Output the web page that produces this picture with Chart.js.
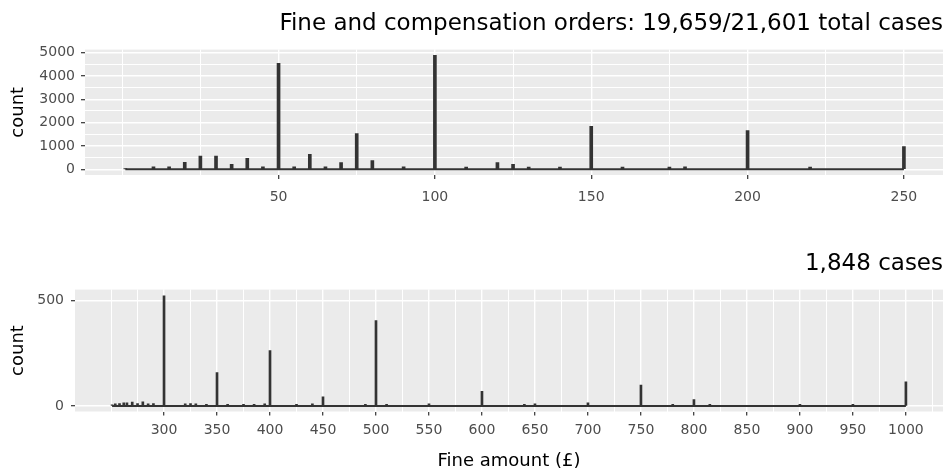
<!DOCTYPE html>
<html>
<head>
<meta charset="utf-8">
<script src="https://cdn.jsdelivr.net/npm/chart.js@4.4.1/dist/chart.umd.min.js"></script>
<style>
  body { margin: 0; background: #fff; }
  canvas { display: block; }
</style>
</head>
<body>
<canvas id="topChart" width="951" height="235"></canvas>
<canvas id="bottomChart" width="951" height="241"></canvas>
<script>
// fine amounts (GBP) and number of cases
const topAmounts = [1, 10, 15, 20, 25, 30, 35, 40, 45, 50, 55, 60, 65, 70, 75, 80, 90, 100, 110, 120,
  125, 130, 140, 150, 160, 175, 180, 200, 220, 250];
const topCounts = [20, 110, 110, 300, 570, 570, 210, 470, 110, 4540, 110, 640, 110, 290, 1530, 370, 110, 4880, 100, 290,
  210, 100, 100, 1840, 100, 100, 110, 1660, 100, 975];

const bottomAmounts = [251, 254, 258, 262, 265, 270, 275, 280, 285, 290, 300, 320, 325, 330, 340, 350, 360, 375, 385, 395,
  400, 425, 440, 450, 490, 500, 510, 550, 600, 640, 650, 700, 750, 780, 800, 815, 900, 950, 1000];
const bottomCounts = [6, 10, 12, 15, 15, 18, 12, 20, 10, 12, 522, 10, 12, 10, 8, 158, 8, 8, 8, 10,
  262, 8, 10, 43, 8, 404, 8, 10, 70, 8, 10, 15, 99, 8, 31, 8, 8, 8, 115];

// axis breaks (labelled) and grid lines
const topBreaksX = [50, 100, 150, 200, 250];
const topGridX = [0, 25, 50, 75, 100, 125, 150, 175, 200, 225, 250];
const topBreaksY = [0, 1000, 2000, 3000, 4000, 5000];
const topGridY = [0, 500, 1000, 1500, 2000, 2500, 3000, 3500, 4000, 4500, 5000];

const bottomBreaksX = [300, 350, 400, 450, 500, 550, 600, 650, 700, 750, 800, 850, 900, 950, 1000];
const bottomGridX = [250, 275, 300, 325, 350, 375, 400, 425, 450, 475, 500, 525, 550, 575, 600, 625, 650, 675,
  700, 725, 750, 775, 800, 825, 850, 875, 900, 925, 950, 975, 1000, 1025];
const bottomBreaksY = [0, 500];
const bottomGridY = [0, 500];

const topTitle = 'Fine and compensation orders: 19,659/21,601 total cases';
const bottomTitle = '1,848 cases';
const xTitle = 'Fine amount (£)';
const yTitle = 'count';

const FONT = "'DejaVu Sans', sans-serif";
const BAR = '#333333';

const panelBg = {
  id: 'panelBg',
  beforeDraw(chart) {
    const { ctx, chartArea: a } = chart;
    ctx.save();
    ctx.fillStyle = '#ebebeb';
    ctx.fillRect(a.left, a.top, a.right - a.left, a.bottom - a.top);
    ctx.restore();
  }
};

function axis(o) {
  const isMajor = c => c.tick && o.breaks.includes(c.tick.value);
  return {
    type: 'linear',
    min: o.min,
    max: o.max,
    offset: false,
    afterBuildTicks: s => { s.ticks = o.grid.map(v => ({ value: v })); },
    afterFit: s => { if (o.width) s.width = o.width; if (o.height) s.height = o.height; },
    grid: {
      offset: false,
      color: '#ffffff',
      lineWidth: c => isMajor(c) ? 1.4 : 1,
      tickColor: c => isMajor(c) ? '#333333' : 'rgba(0,0,0,0)',
      tickLength: 4,
      tickWidth: 1.2
    },
    border: { display: false },
    ticks: {
      autoSkip: false,
      maxRotation: 0,
      padding: o.pad,
      color: '#4d4d4d',
      font: { family: FONT, size: 14 },
      callback: v => o.breaks.includes(v) ? String(v) : ''
    },
    title: o.title ? {
      display: true,
      text: o.title,
      color: '#000',
      font: { family: FONT, size: 18 },
      padding: o.titlePad
    } : { display: false }
  };
}

function histogram(id, amounts, counts, title, titlePad, barWidth, xOpts, yOpts) {
  const points = amounts.map((a, i) => ({ x: a, y: counts[i] }));
  const lo = Math.min(...amounts), hi = Math.max(...amounts);
  return new Chart(document.getElementById(id), {
    type: 'bar',
    data: {
      datasets: [
        { type: 'bar', data: points, backgroundColor: BAR, barThickness: barWidth, order: 2 },
        { type: 'line', data: [{ x: lo, y: 0 }, { x: hi, y: 0 }], borderColor: BAR, borderWidth: 2,
          pointRadius: 0, order: 1 }
      ]
    },
    options: {
      responsive: false,
      animation: false,
      layout: { padding: { left: 0, right: 8, top: 0, bottom: 0 } },
      plugins: {
        legend: { display: false },
        tooltip: { enabled: false },
        title: {
          display: true, text: title, align: 'end', color: '#000',
          font: { family: FONT, size: 23, weight: 'normal' }, padding: titlePad
        }
      },
      scales: { x: axis(xOpts), y: axis(yOpts) }
    },
    plugins: [panelBg]
  });
}

histogram('topChart', topAmounts, topCounts, topTitle, { top: 10, bottom: 12 }, 3,
  { min: -11.9, max: 262.5, breaks: topBreaksX, grid: topGridX, height: 60, pad: 10 },
  { min: -244, max: 5128, breaks: topBreaksY, grid: topGridY, width: 85, pad: 6, title: yTitle, titlePad: { top: 8 } });

histogram('bottomChart', bottomAmounts, bottomCounts, bottomTitle, { top: 15, bottom: 12 }, 2,
  { min: 216, max: 1035, breaks: bottomBreaksX, grid: bottomGridX, height: 64.5, pad: 6,
    title: xTitle, titlePad: { top: 0, bottom: 4 } },
  { min: -26, max: 551, breaks: bottomBreaksY, grid: bottomGridY, width: 75, pad: 7, title: yTitle, titlePad: { top: 8 } });
</script>
</body>
</html>
